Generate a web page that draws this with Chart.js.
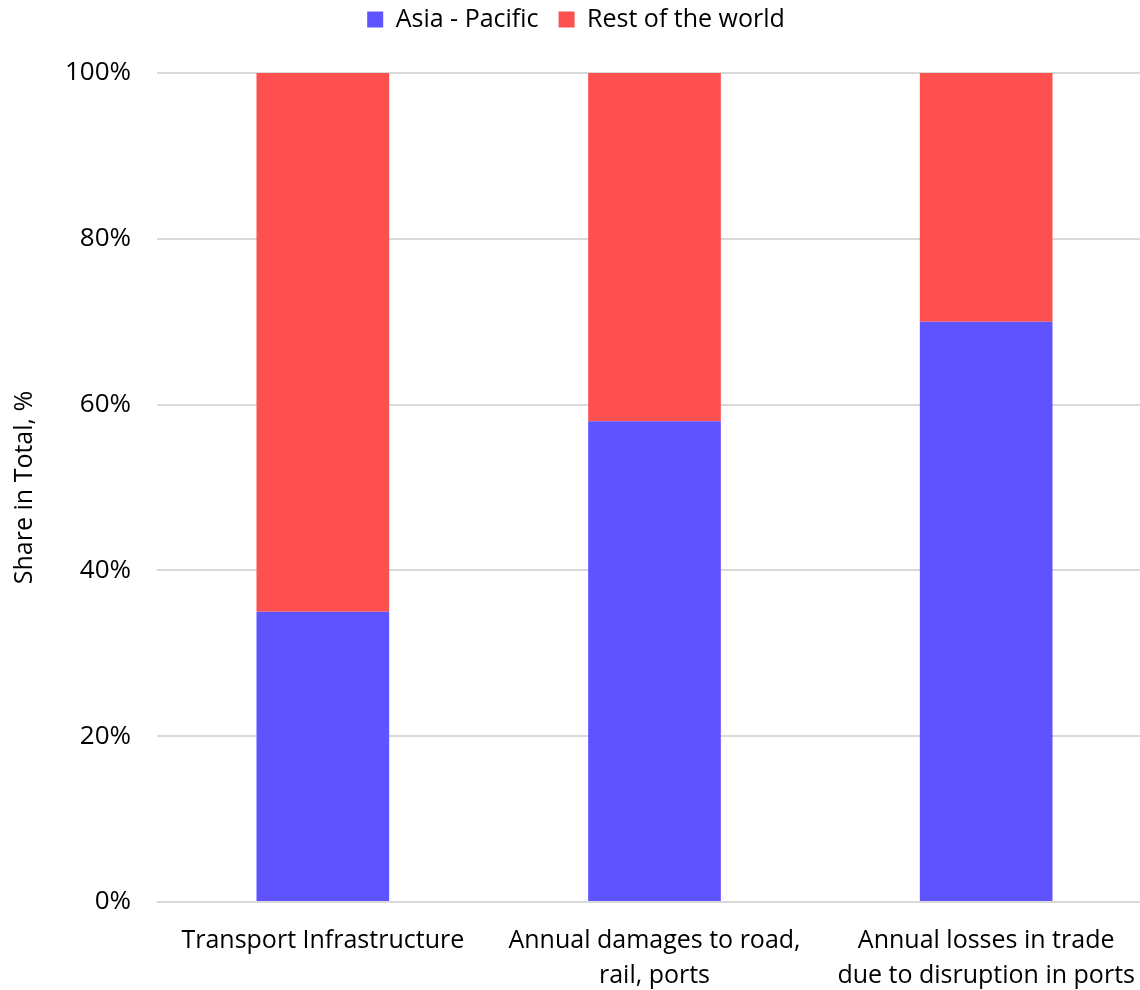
<!DOCTYPE html>
<html lang="en">
<head>
    <meta charset="UTF-8">
    <title>Share in Total</title>
    <script src="https://cdn.jsdelivr.net/npm/chart.js"></script>
    <style>
        html, body { margin: 0; padding: 0; background: #fff; overflow: hidden; }
        #wrap { width: 1152px; height: 990px; position: relative; }
    </style>
</head>
<body>

<div id="wrap">
    <canvas id="chart"></canvas>
</div>

<script>
const categories = [
    'Transport Infrastructure',
    ['Annual damages to road,', 'rail, ports'],
    ['Annual losses in trade', 'due to disruption in ports']
];
const asiaPacific = [35, 58, 70];
const restOfWorld = [65, 42, 30];
const yTicks = [0, 20, 40, 60, 80, 100];

const FONT = "'Open Sans', sans-serif";

// push the plot area down below the legend
const legendGap = {
    id: 'legendGap',
    beforeInit(chart) {
        const fit = chart.legend.fit;
        chart.legend.fit = function () {
            fit.bind(chart.legend)();
            this.height += 31;
        };
    }
};

const ctx = document.getElementById('chart').getContext('2d');
const chart = new Chart(ctx, {
    type: 'bar',
    data: {
        labels: categories,
        datasets: [{
            label: 'Asia - Pacific',
            data: asiaPacific,
            backgroundColor: '#5f52ff'
        }, {
            label: 'Rest of the world',
            data: restOfWorld,
            backgroundColor: '#ff5050'
        }]
    },
    options: {
        responsive: true,
        maintainAspectRatio: false,
        animation: false,
        layout: { padding: { top: -13, right: 0, bottom: 0, left: 0 } },
        datasets: {
            bar: { barPercentage: 1, categoryPercentage: 0.4 }
        },
        plugins: {
            legend: {
                position: 'top',
                labels: {
                    font: { family: FONT, size: 25 },
                    color: '#000',
                    boxWidth: 16,
                    boxHeight: 16,
                    padding: 20
                }
            },
            tooltip: { enabled: false }
        },
        scales: {
            x: {
                stacked: true,
                grid: { display: false },
                border: { display: false },
                ticks: {
                    font: { family: FONT, size: 25, lineHeight: 1.38 },
                    color: '#000',
                    padding: 14,
                    maxRotation: 0,
                    autoSkip: false
                },
                afterFit(scale) { scale.height = 88; }
            },
            y: {
                stacked: true,
                min: 0,
                max: 100,
                afterBuildTicks(scale) {
                    scale.ticks = yTicks.map(v => ({ value: v }));
                },
                grid: { color: '#d9d9d9', lineWidth: 2, drawTicks: false },
                border: { display: false },
                ticks: {
                    font: { family: FONT, size: 26 },
                    color: '#000',
                    padding: 26,
                    callback: v => v + '%'
                },
                title: {
                    display: true,
                    text: 'Share in Total, %',
                    font: { family: FONT, size: 25 },
                    color: '#000',
                    padding: { top: 10, bottom: 10 }
                },
                afterFit(scale) { scale.width = 157; }
            }
        }
    },
    plugins: [legendGap]
});
</script>

</body>
</html>
